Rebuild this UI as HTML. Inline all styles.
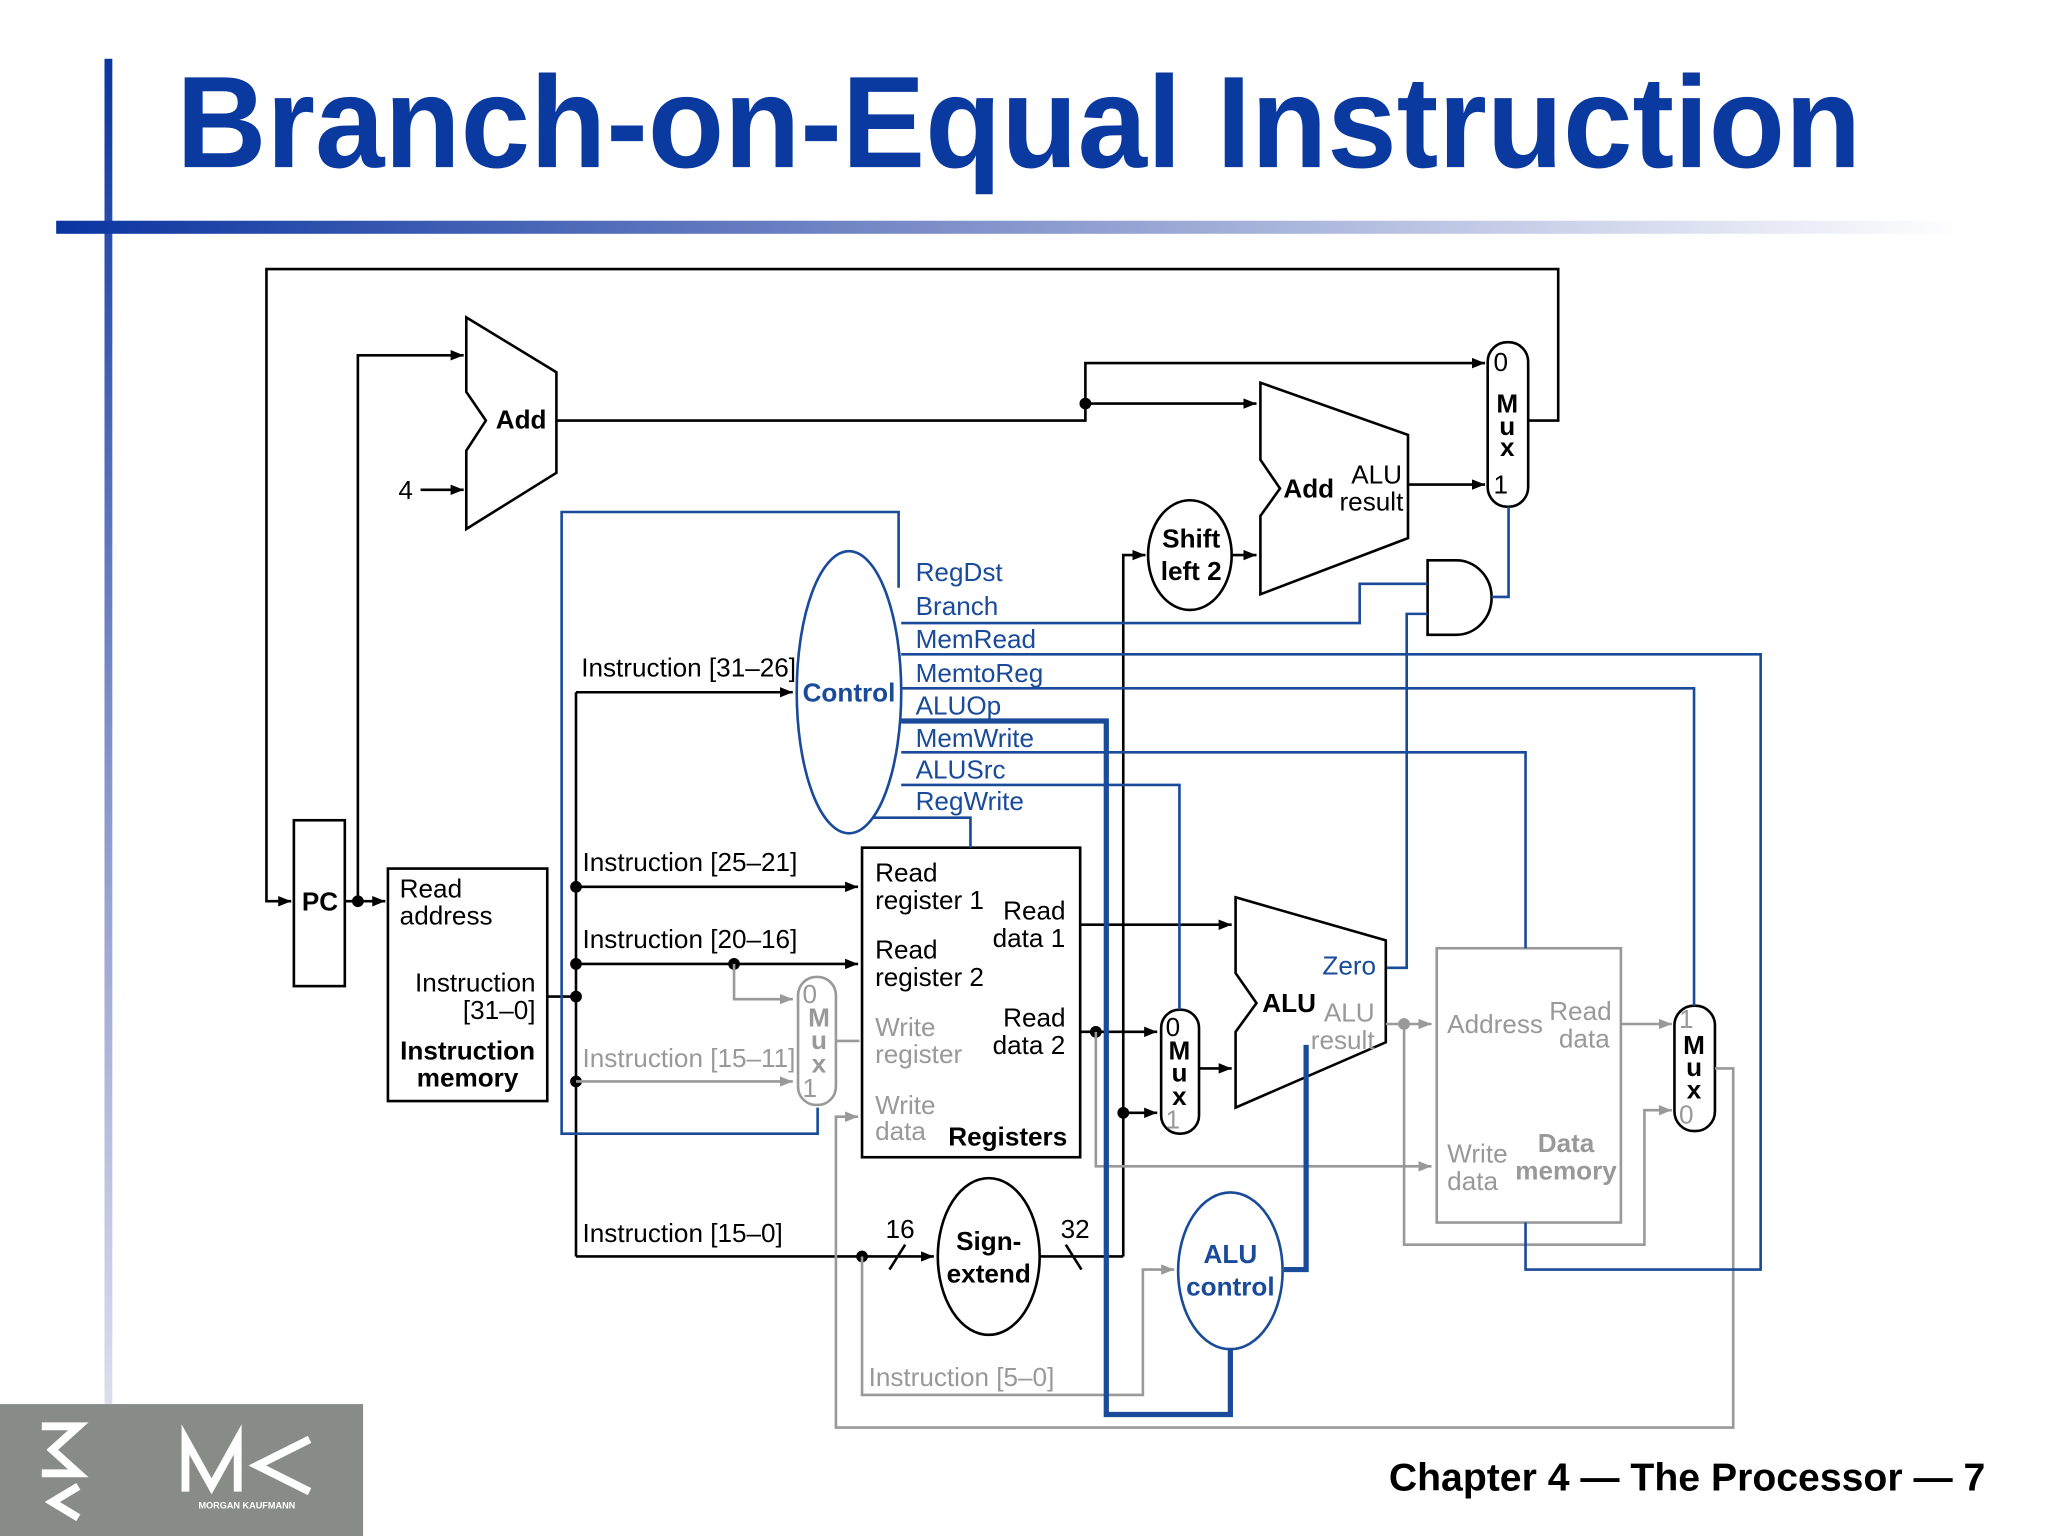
<!DOCTYPE html>
<html><head><meta charset="utf-8"><style>
html,body{margin:0;padding:0;background:#fff;}
svg{display:block;}
text{font-family:"Liberation Sans",Arial,sans-serif;}
</style></head><body>
<svg width="2048" height="1536" viewBox="0 0 1568 1176" preserveAspectRatio="none" xmlns="http://www.w3.org/2000/svg">
<defs>
<marker id="ab" markerWidth="10" markerHeight="8" refX="10" refY="4" orient="auto" markerUnits="userSpaceOnUse"><path d="M0,0 L10,4 L0,8 z" fill="#000"/></marker>
<marker id="ag" markerWidth="10" markerHeight="8" refX="10" refY="4" orient="auto" markerUnits="userSpaceOnUse"><path d="M0,0 L10,4 L0,8 z" fill="#999"/></marker>
<linearGradient id="hb" x1="0" x2="1" y1="0" y2="0"><stop offset="0" stop-color="#0a35a0"/><stop offset="0.45" stop-color="#7a8cc8"/><stop offset="1" stop-color="#fff"/></linearGradient>
<linearGradient id="vb" x1="0" x2="0" y1="0" y2="1"><stop offset="0" stop-color="#0a35a0"/><stop offset="0.5" stop-color="#8090c8"/><stop offset="1" stop-color="#dde"/></linearGradient>
</defs>
<rect x="80" y="45" width="6" height="1030" fill="url(#vb)"/>
<rect x="43" y="169" width="1460" height="10" fill="url(#hb)"/>
<text x="135" y="128" font-size="100" font-weight="bold" fill="#0a3aa0" textLength="1290" lengthAdjust="spacingAndGlyphs">Branch-on-Equal Instruction</text>

<g fill="none" stroke="#000" stroke-width="2">
<polyline points="1170,322 1193,322 1193,206 204,206 204,690 223,690" marker-end="url(#ab)"/>
<rect x="225" y="628" width="39" height="127"/>
<line x1="264" y1="690" x2="295" y2="690" marker-end="url(#ab)"/>
<polyline points="274,690 274,272 355,272" marker-end="url(#ab)"/>
<polygon points="357,243 426,285 426,362 357,405 357,345 372,322 357,300"/>
<line x1="322" y1="375" x2="355" y2="375" marker-end="url(#ab)"/>
<polyline points="426,322 831,322 831,309"/>
<line x1="831" y1="309" x2="962" y2="309" marker-end="url(#ab)"/>
<polyline points="831,309 831,278 1137,278" marker-end="url(#ab)"/>
<polygon points="965,293 1078,333 1078,412 965,455 965,395 980,374 965,352"/>
<line x1="1078" y1="371" x2="1137" y2="371" marker-end="url(#ab)"/>
<rect x="1139" y="262" width="31" height="126" rx="15"/>
<ellipse cx="911" cy="425" rx="32" ry="42"/>
<polyline points="860,962 860,425 877,425" marker-end="url(#ab)"/>
<line x1="943" y1="425" x2="962" y2="425" marker-end="url(#ab)"/>
<path d="M1093,429 L1115,429 A27,28.5 0 0 1 1115,486 L1093,486 Z"/>
<rect x="297" y="665" width="122" height="178"/>
<line x1="419" y1="763" x2="441" y2="763"/>
<line x1="441" y1="530" x2="441" y2="962"/>
<line x1="441" y1="530" x2="607" y2="530" marker-end="url(#ab)"/>
<line x1="441" y1="679" x2="657" y2="679" marker-end="url(#ab)"/>
<line x1="441" y1="738" x2="657" y2="738" marker-end="url(#ab)"/>
<line x1="441" y1="962" x2="715" y2="962" marker-end="url(#ab)"/>
<line x1="681" y1="972" x2="693" y2="953"/>
<rect x="660" y="649" width="167" height="237"/>
<line x1="827" y1="708" x2="943" y2="708" marker-end="url(#ab)"/>
<line x1="827" y1="790" x2="886" y2="790" marker-end="url(#ab)"/>
<ellipse cx="757" cy="962" rx="39" ry="60"/>
<line x1="796" y1="962" x2="860" y2="962"/>
<line x1="816" y1="953" x2="828" y2="972"/>
<line x1="860" y1="852" x2="886" y2="852" marker-end="url(#ab)"/>
<rect x="889" y="773" width="29" height="95" rx="14"/>
<line x1="918" y1="818" x2="943" y2="818" marker-end="url(#ab)"/>
<polygon points="946,687 1061,720 1061,798 946,848 946,790 962,768 946,745"/>
<rect x="1282" y="770" width="31" height="96" rx="15"/>
</g>
<g fill="#000">
<circle cx="274" cy="690" r="4.5"/><circle cx="831" cy="309" r="4.5"/>
<circle cx="441" cy="679" r="4.5"/><circle cx="441" cy="738" r="4.5"/><circle cx="441" cy="763" r="4.5"/><circle cx="441" cy="828" r="4.5"/>
<circle cx="562" cy="738" r="4.5"/><circle cx="660" cy="962" r="4.5"/><circle cx="860" cy="852" r="4.5"/><circle cx="839" cy="790" r="4.5"/>
</g>

<g fill="none" stroke="#999" stroke-width="2">
<polyline points="562,738 562,765 607,765" marker-end="url(#ag)"/>
<line x1="441" y1="828" x2="607" y2="828" marker-end="url(#ag)"/>
<rect x="611" y="748" width="29" height="98" rx="14"/>
<line x1="640" y1="797" x2="658" y2="797"/>
<polyline points="1313,818 1327,818 1327,1093 640,1093 640,855 657,855" marker-end="url(#ag)"/>
<polyline points="839,790 839,893 1096,893" marker-end="url(#ag)"/>
<polyline points="660,962 660,1068 875,1068 875,972 899,972" marker-end="url(#ag)"/>
<line x1="1061" y1="784" x2="1096" y2="784" marker-end="url(#ag)"/>
<polyline points="1075,784 1075,953 1259,953 1259,850 1280,850" marker-end="url(#ag)"/>
<rect x="1100" y="726" width="141" height="210"/>
<line x1="1241" y1="784" x2="1280" y2="784" marker-end="url(#ag)"/>
</g>
<circle cx="1075" cy="784" r="4.5" fill="#999"/>

<g fill="none" stroke="#1a4a9a" stroke-width="2">
<ellipse cx="650" cy="530" rx="40" ry="108"/>
<polyline points="688,450 688,392 430,392 430,868 626,868 626,848"/>
<polyline points="690,477 1041,477 1041,447 1093,447"/>
<polyline points="1062,741 1077,741 1077,470 1093,470"/>
<polyline points="1142,457 1155,457 1155,388"/>
<polyline points="690,501 1348,501 1348,972 1168,972 1168,936"/>
<polyline points="690,527 1297,527 1297,770"/>
<polyline points="690,576 1168,576 1168,726"/>
<polyline points="690,601 903,601 903,773"/>
<polyline points="668,626 743,626 743,649"/>
<polyline points="690,552 847,552 847,1083 942,1083 942,1032" stroke-width="4"/>
<polyline points="983,972 1000,972 1000,800" stroke-width="4"/>
<ellipse cx="942" cy="973" rx="40" ry="60"/>
</g>

<g font-size="20" fill="#000">
<text x="399" y="328" font-weight="bold" text-anchor="middle">Add</text>
<text x="305" y="382">4</text>
<text x="1002" y="381" font-weight="bold" text-anchor="middle">Add</text>
<text x="1054" y="370" text-anchor="middle">ALU</text>
<text x="1050" y="391" text-anchor="middle">result</text>
<text x="1149" y="284" text-anchor="middle">0</text>
<text x="1154" y="316" font-weight="bold" text-anchor="middle">M</text>
<text x="1154" y="333" font-weight="bold" text-anchor="middle">u</text>
<text x="1154" y="349" font-weight="bold" text-anchor="middle">x</text>
<text x="1149" y="378" text-anchor="middle">1</text>
<text x="912" y="419" font-weight="bold" text-anchor="middle">Shift</text>
<text x="912" y="444" font-weight="bold" text-anchor="middle">left 2</text>
<text x="245" y="697" font-weight="bold" text-anchor="middle">PC</text>
<text x="306" y="687">Read</text>
<text x="306" y="708">address</text>
<text x="410" y="759" text-anchor="end">Instruction</text>
<text x="410" y="780" text-anchor="end">[31–0]</text>
<text x="358" y="811" font-weight="bold" text-anchor="middle">Instruction</text>
<text x="358" y="832" font-weight="bold" text-anchor="middle">memory</text>
<text x="445" y="518">Instruction [31–26]</text>
<text x="446" y="667">Instruction [25–21]</text>
<text x="446" y="726">Instruction [20–16]</text>
<text x="446" y="951">Instruction [15–0]</text>
<text x="678" y="948">16</text>
<text x="812" y="948">32</text>
<text x="670" y="675">Read</text>
<text x="670" y="696">register 1</text>
<text x="768" y="704">Read</text>
<text x="760" y="725">data 1</text>
<text x="670" y="734">Read</text>
<text x="670" y="755">register 2</text>
<text x="768" y="786">Read</text>
<text x="760" y="807">data 2</text>
<text x="726" y="877" font-weight="bold">Registers</text>
<text x="757" y="957" font-weight="bold" text-anchor="middle">Sign-</text>
<text x="757" y="982" font-weight="bold" text-anchor="middle">extend</text>
<text x="898" y="793" text-anchor="middle">0</text>
<text x="903" y="811" font-weight="bold" text-anchor="middle">M</text>
<text x="903" y="828" font-weight="bold" text-anchor="middle">u</text>
<text x="903" y="846" font-weight="bold" text-anchor="middle">x</text>
<text x="987" y="775" font-weight="bold" text-anchor="middle">ALU</text>
<text x="1297" y="807" font-weight="bold" text-anchor="middle">M</text>
<text x="1297" y="824" font-weight="bold" text-anchor="middle">u</text>
<text x="1297" y="841" font-weight="bold" text-anchor="middle">x</text>
</g>
<g font-size="20" fill="#999">
<text x="446" y="817">Instruction [15–11]</text>
<text x="620" y="768" text-anchor="middle">0</text>
<text x="627" y="786" font-weight="bold" text-anchor="middle">M</text>
<text x="627" y="803" font-weight="bold" text-anchor="middle">u</text>
<text x="627" y="821" font-weight="bold" text-anchor="middle">x</text>
<text x="620" y="840" text-anchor="middle">1</text>
<text x="670" y="793">Write</text>
<text x="670" y="814">register</text>
<text x="670" y="853">Write</text>
<text x="670" y="873">data</text>
<text x="898" y="864" text-anchor="middle" fill="#999">1</text>
<text x="665" y="1061">Instruction [5–0]</text>
<text x="1033" y="782" text-anchor="middle">ALU</text>
<text x="1028" y="803" text-anchor="middle">result</text>
<text x="1108" y="791">Address</text>
<text x="1210" y="781" text-anchor="middle">Read</text>
<text x="1213" y="802" text-anchor="middle">data</text>
<text x="1108" y="890">Write</text>
<text x="1108" y="911">data</text>
<text x="1199" y="882" font-weight="bold" text-anchor="middle">Data</text>
<text x="1199" y="903" font-weight="bold" text-anchor="middle">memory</text>
<text x="1291" y="787" text-anchor="middle">1</text>
<text x="1291" y="860" text-anchor="middle">0</text>
</g>
<g font-size="20" fill="#1a4a9a">
<text x="650" y="537" font-weight="bold" text-anchor="middle">Control</text>
<text x="701" y="445">RegDst</text>
<text x="701" y="471">Branch</text>
<text x="701" y="496">MemRead</text>
<text x="701" y="522">MemtoReg</text>
<text x="701" y="547">ALUOp</text>
<text x="701" y="572">MemWrite</text>
<text x="701" y="596">ALUSrc</text>
<text x="701" y="620">RegWrite</text>
<text x="1033" y="746" text-anchor="middle">Zero</text>
<text x="942" y="967" font-weight="bold" text-anchor="middle">ALU</text>
<text x="942" y="992" font-weight="bold" text-anchor="middle">control</text>
</g>

<text x="1520" y="1141" font-size="30" font-weight="bold" text-anchor="end" fill="#000">Chapter 4 — The Processor — 7</text>
<rect x="0" y="1075" width="278" height="101" fill="#878c88"/>
<g fill="none" stroke="#fff" stroke-width="6">
<polyline points="32,1092 60,1092 40,1110 60,1128 32,1128"/>
<polyline points="60,1138 40,1150 60,1162"/>
<polyline points="142,1142 142,1102 162,1138 182,1102 182,1142"/>
<polyline points="237,1102 197,1122 237,1142"/>
</g>
<text x="189" y="1155" font-size="7" font-weight="bold" fill="#fff" text-anchor="middle">MORGAN KAUFMANN</text>
</svg>
</body></html>
